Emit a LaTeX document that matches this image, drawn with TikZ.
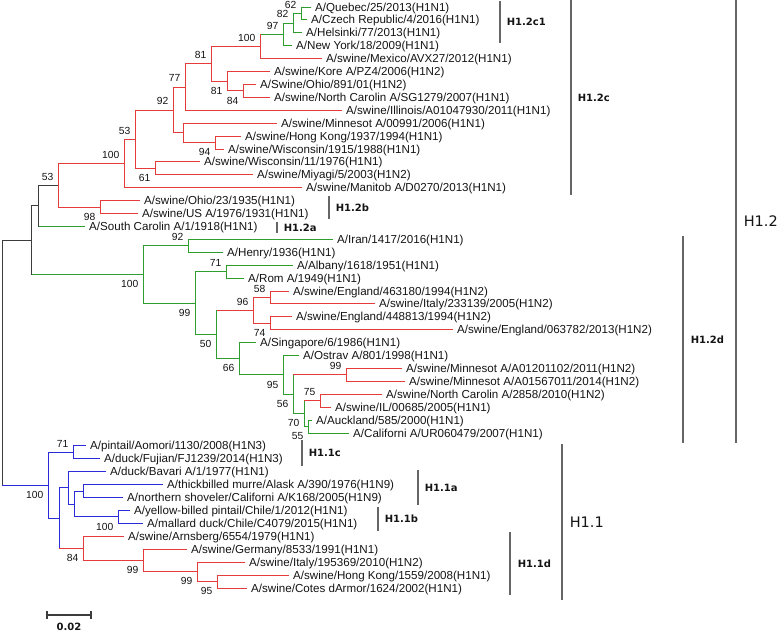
\documentclass[tikz,border=0pt]{standalone}
\usepackage{fontspec}
\setmainfont{Liberation Sans}
\newfontfamily\cladefont{DejaVu Sans}
\definecolor{brRed}{HTML}{E63B3B}
\definecolor{brGreen}{HTML}{2E9E2E}
\definecolor{brBlue}{HTML}{2B2BD9}
\definecolor{brBlack}{HTML}{3C3C3C}
\definecolor{barGray}{HTML}{666666}
\definecolor{txtGray}{HTML}{141414}

\begin{document}
\begin{tikzpicture}[x=1pt, y=-1pt,
		redbr/.style={draw=brRed, line width=1pt},
		grnbr/.style={draw=brGreen, line width=1pt},
		blubr/.style={draw=brBlue, line width=1pt},
		blkbr/.style={draw=brBlack, line width=1pt},
		leaf/.style={anchor=west, inner xsep=4pt, inner ysep=0pt, text height=8pt, text depth=0pt, text=txtGray, font=\fontsize{11.6}{12}\selectfont},
		boot/.style={inner sep=0pt, text height=7.4pt, text depth=0pt, text=txtGray, font=\fontsize{10.3}{10}\selectfont, xshift=-4.5pt},
		bsup/.style={boot, anchor=south east, yshift=5pt},
		bsdown/.style={boot, anchor=north east, yshift=-5.5pt},
		cladebar/.style={draw=barGray, line width=1.6pt},
		cladelbl/.style={anchor=west, inner sep=0pt, xshift=6pt, text=txtGray, font=\fontsize{10}{10}\selectfont\cladefont\bfseries},
		grouplbl/.style={anchor=west, inner sep=0pt, xshift=7pt, text=txtGray, font=\fontsize{14.5}{15}\selectfont\cladefont}]
		\useasboundingbox (0,0) rectangle (778,633);

		\node[leaf] (Quebec) at (311,7.0) {A/Quebec/25/2013(H1N1)};
		\node[leaf] (Czech) at (307,19.9) {A/Czech Republic/4/2016(H1N1)};
		\node[leaf] (Helsinki) at (302,32.8) {A/Helsinki/77/2013(H1N1)};
		\node[leaf] (NewYork) at (292,45.7) {A/New York/18/2009(H1N1)};
		\node[leaf] (Mexico) at (322,58.6) {A/swine/Mexico/AVX27/2012(H1N1)};
		\node[leaf] (Kore) at (270,71.6) {A/swine/Kore A/PZ4/2006(H1N2)};
		\node[leaf] (Ohio891) at (256,84.5) {A/Swine/Ohio/891/01(H1N2)};
		\node[leaf] (NCarolinSG) at (270,97.4) {A/swine/North Carolin A/SG1279/2007(H1N1)};
		\node[leaf] (Illinois) at (342,110.3) {A/swine/Illinois/A01047930/2011(H1N1)};
		\node[leaf] (MinnesotA) at (277,123.2) {A/swine/Minnesot A/00991/2006(H1N1)};
		\node[leaf] (HongKong37) at (241,136.1) {A/swine/Hong Kong/1937/1994(H1N1)};
		\node[leaf] (Wisconsin15) at (224,149.0) {A/swine/Wisconsin/1915/1988(H1N1)};
		\node[leaf] (Wisconsin11) at (200,161.9) {A/swine/Wisconsin/11/1976(H1N1)};
		\node[leaf] (Miyagi) at (253,174.8) {A/swine/Miyagi/5/2003(H1N2)};
		\node[leaf] (Manitob) at (302,187.7) {A/swine/Manitob A/D0270/2013(H1N1)};
		\node[leaf] (Ohio23) at (140,200.7) {A/swine/Ohio/23/1935(H1N1)};
		\node[leaf] (SwineUS) at (138,213.6) {A/swine/US A/1976/1931(H1N1)};
		\node[leaf] (SCarolin) at (85,226.5) {A/South Carolin A/1/1918(H1N1)};
		\node[leaf] (Iran) at (333,239.4) {A/Iran/1417/2016(H1N1)};
		\node[leaf] (Henry) at (223,252.3) {A/Henry/1936(H1N1)};
		\node[leaf] (Albany) at (293,265.2) {A/Albany/1618/1951(H1N1)};
		\node[leaf] (Rom) at (244,278.1) {A/Rom A/1949(H1N1)};
		\node[leaf] (England463) at (289,291.0) {A/swine/England/463180/1994(H1N2)};
		\node[leaf] (Italy233) at (375,303.9) {A/swine/Italy/233139/2005(H1N2)};
		\node[leaf] (England448) at (292,316.8) {A/swine/England/448813/1994(H1N2)};
		\node[leaf] (England063) at (453,329.8) {A/swine/England/063782/2013(H1N2)};
		\node[leaf] (Singapore) at (256,342.7) {A/Singapore/6/1986(H1N1)};
		\node[leaf] (Ostrav) at (299,355.6) {A/Ostrav A/801/1998(H1N1)};
		\node[leaf] (Minnesot012) at (402,368.5) {A/swine/Minnesot A/A01201102/2011(H1N2)};
		\node[leaf] (Minnesot015) at (405,381.4) {A/swine/Minnesot A/A01567011/2014(H1N2)};
		\node[leaf] (NCarolin2858) at (382,394.3) {A/swine/North Carolin A/2858/2010(H1N2)};
		\node[leaf] (IL685) at (331,407.2) {A/swine/IL/00685/2005(H1N1)};
		\node[leaf] (Auckland) at (312,420.1) {A/Auckland/585/2000(H1N1)};
		\node[leaf] (Californi) at (349,433.0) {A/Californi A/UR060479/2007(H1N1)};
		\node[leaf] (Pintail) at (86,445.9) {A/pintail/Aomori/1130/2008(H1N3)};
		\node[leaf] (DuckFujian) at (100,458.9) {A/duck/Fujian/FJ1239/2014(H1N3)};
		\node[leaf] (DuckBavari) at (106,471.8) {A/duck/Bavari A/1/1977(H1N1)};
		\node[leaf] (Murre) at (163,484.7) {A/thickbilled murre/Alask A/390/1976(H1N9)};
		\node[leaf] (Shoveler) at (123,497.6) {A/northern shoveler/Californi A/K168/2005(H1N9)};
		\node[leaf] (YellowPintail) at (130,510.5) {A/yellow-billed pintail/Chile/1/2012(H1N1)};
		\node[leaf] (Mallard) at (143,523.4) {A/mallard duck/Chile/C4079/2015(H1N1)};
		\node[leaf] (Arnsberg) at (124,536.3) {A/swine/Arnsberg/6554/1979(H1N1)};
		\node[leaf] (Germany) at (187,549.2) {A/swine/Germany/8533/1991(H1N1)};
		\node[leaf] (Italy195) at (245,562.1) {A/swine/Italy/195369/2010(H1N2)};
		\node[leaf] (HongKong59) at (289,575.0) {A/swine/Hong Kong/1559/2008(H1N1)};
		\node[leaf] (Cotes) at (247,588.0) {A/swine/Cotes dArmor/1624/2002(H1N1)};

		\coordinate (n62) at (301,13.45);
		\coordinate (n82) at (293,23.1);
		\coordinate (n97) at (283,34.4);
		\coordinate (n100c1) at (260,46.5);
		\coordinate (n84) at (243,90.95);
		\coordinate (n81b) at (227,81.3);
		\coordinate (n81a) at (211,63.9);
		\coordinate (n77) at (185,87.1);
		\coordinate (n94) at (215,142.55);
		\coordinate (nMin) at (183,132.9);
		\coordinate (n92) at (173,110.0);
		\coordinate (n61) at (155,168.35);
		\coordinate (n53a) at (135,139.2);
		\coordinate (n100c) at (124,163.45);
		\coordinate (n98) at (100,207.15);
		\coordinate (n53b) at (58,185.3);
		\coordinate (nSC) at (38,205.9);
		\coordinate (n92d) at (188,245.85);
		\coordinate (n71d) at (226,271.65);
		\coordinate (n58) at (270,297.45);
		\coordinate (n74) at (270,323.3);
		\coordinate (n96) at (253,310.4);
		\coordinate (n99m) at (346,374.95);
		\coordinate (n75) at (320,400.75);
		\coordinate (n55) at (308,426.55);
		\coordinate (n70) at (304,413.65);
		\coordinate (n56) at (293,394.3);
		\coordinate (n95) at (283,374.95);
		\coordinate (n66) at (239,358.8);
		\coordinate (n50) at (216,334.6);
		\coordinate (n99d) at (195,303.1);
		\coordinate (n100d) at (143,274.5);
		\coordinate (nH12) at (31,240.2);
		\coordinate (n71a) at (73,452.4);
		\coordinate (n100b) at (118,516.95);
		\coordinate (nMurre) at (83,491.15);
		\coordinate (nAB) at (74,504.05);
		\coordinate (nBav) at (68,487.9);
		\coordinate (n95s) at (217,581.5);
		\coordinate (n99s2) at (197,571.8);
		\coordinate (n99s1) at (143,560.5);
		\coordinate (n84s) at (83,548.4);
		\coordinate (nAv) at (59,518.15);
		\coordinate (n100a) at (48,485.3);
		\coordinate (root) at (2,362.75);

		\foreach \p/\c in {n62/Quebec, n62/Czech, n82/n62, n82/Helsinki, n97/n82, n97/NewYork, n100c1/n97,
			nSC/SCarolin, nH12/n100d, n92d/Iran, n92d/Henry, n71d/Albany, n71d/Rom, n55/Auckland, n55/Californi,
			n70/n55, n56/n70, n95/Ostrav, n95/n56, n66/Singapore, n66/n95, n50/n66, n99d/n71d, n99d/n50,
			n100d/n92d, n100d/n99d}
			\draw[grnbr] (\p) |- (\c);
		\foreach \p/\c in {n100c1/Mexico, n84/Ohio891, n84/NCarolinSG, n81b/Kore, n81b/n84, n81a/n100c1, n81a/n81b,
			n77/n81a, n77/Illinois, n94/HongKong37, n94/Wisconsin15, nMin/MinnesotA, nMin/n94, n92/n77, n92/nMin,
			n61/Wisconsin11, n61/Miyagi, n53a/n92, n53a/n61, n100c/n53a, n100c/Manitob, n98/Ohio23, n98/SwineUS,
			n53b/n100c, n53b/n98, n58/England463, n58/Italy233, n74/England448, n74/England063, n96/n58, n96/n74,
			n50/n96, n99m/Minnesot012, n99m/Minnesot015, n56/n99m, n75/NCarolin2858, n75/IL685, n70/n75,
			n95s/HongKong59, n95s/Cotes, n99s2/Italy195, n99s2/n95s, n99s1/Germany, n99s1/n99s2,
			n84s/Arnsberg, n84s/n99s1, nAv/n84s}
			\draw[redbr] (\p) |- (\c);
		\foreach \p/\c in {n71a/Pintail, n71a/DuckFujian, n100b/YellowPintail, n100b/Mallard, nMurre/Murre,
			nMurre/Shoveler, nAB/nMurre, nAB/n100b, nBav/DuckBavari, nBav/nAB, nAv/nBav, n100a/n71a, n100a/nAv,
			root/n100a}
			\draw[blubr] (\p) |- (\c);
		\foreach \p/\c in {nSC/n53b, nH12/nSC, root/nH12}
			\draw[blkbr] (\p) |- (\c);

		\draw[redbr] (n97 -| n100c1) -- (Mexico -| n100c1);
		\foreach \p/\a/\b in {n70/n75/n55, n56/n99m/n70, n50/n96/n66}
			\draw[grnbr] (\a -| \p) -- (\b -| \p);
		\draw[blubr] (nBav -| nAv) -- (n84s -| nAv);
		\foreach \p/\a/\b in {nSC/n53b/SCarolin, nH12/nSC/n100d, root/nH12/n100a}
			\draw[blkbr] (\a -| \p) -- (\b -| \p);

		\foreach \n/\v in {n62/62, n82/82, n97/97, n100c1/100, n81a/81, n77/77, n92/92, n53a/53, n100c/100,
			n53b/53, n92d/92, n71d/71, n58/58, n96/96, n99m/99, n75/75, n71a/71}
			\node[bsup] (b\n) at (\n) {\v};
		\foreach \n/\v in {n81b/81, n84/84, n94/94, n61/61, n98/98, n100d/100, n99d/99, n74/74, n50/50, n66/66,
			n95/95, n56/56, n70/70, n55/55, n100a/100, n100b/100, n84s/84, n99s1/99, n99s2/99, n95s/95}
			\node[bsdown] (b\n) at (\n) {\v};

		\draw[cladebar] (500,1) -- (500,43) node[midway, cladelbl] (lblC1) {H1.2c1};
		\draw[cladebar] (571,0) -- (571,195) node[midway, cladelbl] (lblC) {H1.2c};
		\draw[cladebar] (329,196) -- (329,219) node[midway, cladelbl] (lblB) {H1.2b};
		\draw[cladebar] (277,222) -- (277,233) node[midway, cladelbl] (lblA) {H1.2a};
		\draw[cladebar] (683,236) -- (683,443) node[midway, cladelbl, xshift=1pt] (lblD) {H1.2d};
		\draw[cladebar] (736,0) -- (736,443) node[midway, grouplbl] (lblHTwo) {H1.2};
		\draw[cladebar] (302,440) -- (302,466) node[midway, cladelbl] (lblOneC) {H1.1c};
		\draw[cladebar] (418,470) -- (418,505) node[midway, cladelbl] (lblOneA) {H1.1a};
		\draw[cladebar] (378,507) -- (378,531) node[midway, cladelbl] (lblOneB) {H1.1b};
		\draw[cladebar] (510,532) -- (510,595) node[midway, cladelbl, xshift=1pt] (lblOneD) {H1.1d};
		\draw[cladebar] (562,444) -- (562,600) node[midway, grouplbl] (lblHOne) {H1.1};

		\draw[blkbr, line width=1.4pt] (47,611) -- (47,619) (47,615) -- (91,615) (91,611) -- (91,619);
		\node[font=\fontsize{10}{10}\selectfont\cladefont\bfseries, text=txtGray, inner sep=0pt] (scaleLbl) at (69,627) {0.02};
\end{tikzpicture}
\end{document}
